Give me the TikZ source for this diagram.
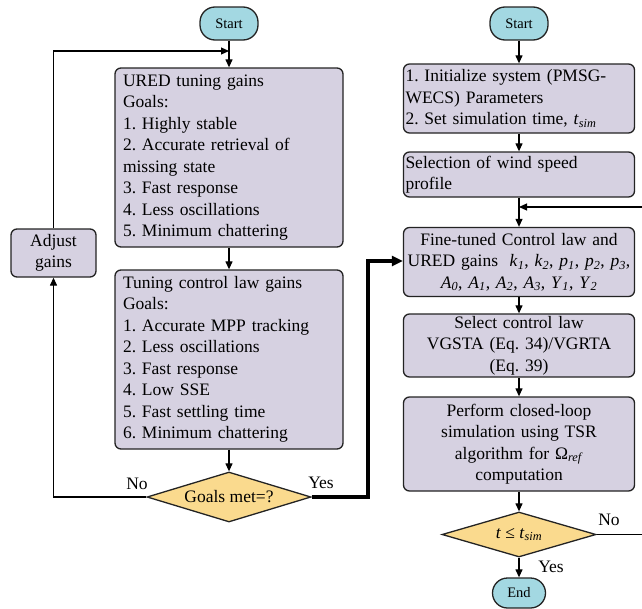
\documentclass[tikz,border=0pt]{standalone}
\usepackage{fontspec}
\setmainfont{Liberation Serif}
\usetikzlibrary{arrows.meta,shapes.geometric}
\definecolor{boxfill}{RGB}{214,209,225}
\definecolor{termfill}{RGB}{163,216,226}
\definecolor{decfill}{RGB}{250,218,142}
\definecolor{edgecol}{RGB}{35,35,35}
\newcommand{\mysub}[1]{\textsubscript{\textit{#1}}}
\frenchspacing
\tikzset{
  proc/.style={draw=edgecol, line width=1.3pt, fill=boxfill, rounded corners=6pt, inner xsep=0pt, inner ysep=0pt},
  term/.style={draw=edgecol, line width=1.3pt, fill=termfill, rounded corners=15pt, inner sep=0pt, font=\fontsize{14.5}{16}\selectfont},
  dec/.style={diamond, draw=edgecol, line width=1.3pt, fill=decfill, inner sep=0pt},
  arr/.style={-{Triangle[length=8pt,width=7pt]}, line width=1.2pt},
  thickarr/.style={-{Triangle[length=11pt,width=10pt]}, line width=3.2pt},
  lbl/.style={inner sep=0pt}
}
\begin{document}
\begin{tikzpicture}[x=1pt,y=-1pt,font=\fontsize{17.5}{21.5}\selectfont]
\useasboundingbox (0,0) rectangle (642,608);
% left column
\node[term, minimum width=58pt, minimum height=33pt] (start1) at (229,23.5) {Start};
\node[proc, minimum width=228pt, minimum height=179pt, text width=212pt, align=left] (ured) at (229,157.5)
  {URED tuning gains\\ Goals:\\ 1. Highly stable\\ 2. Accurate retrieval of\\ missing state\\ 3. Fast response\\ 4. Less oscillations\\ 5. Minimum chattering};
\node[proc, minimum width=228pt, minimum height=179pt, text width=212pt, align=left] (tune) at (229,359.5)
  {Tuning control law gains\\ Goals:\\ 1. Accurate MPP tracking\\ 2. Less oscillations\\ 3. Fast response\\ 4. Low SSE\\ 5. Fast settling time\\ 6. Minimum chattering};
\node[dec, aspect=3.28, minimum width=164pt, minimum height=50pt] (dia1) at (229,497) {Goals met=?};
\node[proc, minimum width=85pt, minimum height=48pt, align=center] (adjust) at (53.5,253) {Adjust\\ gains};
\coordinate (j1) at (229,51);
% right column
\node[term, minimum width=58pt, minimum height=33pt] (start2) at (519,23.5) {Start};
\node[proc, minimum width=231pt, minimum height=69pt, text width=227pt, align=left] (b1) at (519,98.5)
  {\mbox{1. Initialize system (PMSG-}\\ WECS) Parameters\\ 2. Set simulation time, \textit{t}\mysub{sim}};
\node[proc, minimum width=231pt, minimum height=45pt, text width=227pt, align=left] (b2) at (519,174.5)
  {Selection of wind speed\\ profile};
\node[proc, minimum width=231pt, minimum height=69pt, text width=227pt, align=center] (fine) at (519,262)
  {Fine-tuned Control law and\\ URED gains \ \textit{k}\mysub{1}, \textit{k}\mysub{2}, \textit{p}\mysub{1}, \textit{p}\mysub{2}, \textit{p}\mysub{3},\\
   \textit{A}\mysub{0}, \textit{A}\mysub{1}, \textit{A}\mysub{2}, \textit{A}\mysub{3}, \textit{Υ}\mysub{1}, \textit{Υ}\mysub{2}};
\node[proc, minimum width=231pt, minimum height=63pt, text width=227pt, align=center] (sel) at (519,345.5)
  {Select control law\\ VGSTA (Eq. 34)/VGRTA\\ (Eq. 39)};
\node[proc, minimum width=231pt, minimum height=94pt, text width=227pt, align=center] (perf) at (519,444)
  {Perform closed-loop\\ simulation using TSR\\ algorithm for Ω\mysub{ref}\\ computation};
\node[dec, aspect=3.42, minimum width=154pt, minimum height=45pt] (dia2) at (519,534.5) {\textit{t} ≤ \textit{t}\mysub{sim}};
\node[term, minimum width=53pt, minimum height=30pt] (end) at (519,593) {End};
\coordinate (j2) at (519,207);
\coordinate (c1) at (368,261);
\coordinate (c2) at (643,534.5);
% labels
\node[lbl] (no1) at (137,484) {No};
\node[lbl] (yes1) at (321,483) {Yes};
\node[lbl] (no2) at (609,520) {No};
\node[lbl] (yes2) at (551,567) {Yes};
% connectors left
\draw[arr] (start1) -- (ured);
\draw[arr] (adjust.north) |- (j1);
\draw[arr] (ured) -- (tune);
\draw[arr] (tune) -- (dia1);
\draw[arr] (dia1.west) -| (adjust.south);
\draw[thickarr] (dia1.east) -| (c1) -- (c1 -| fine.west);
% connectors right
\draw[arr] (start2) -- (b1);
\draw[arr] (b1) -- (b2);
\draw[arr] (b2) -- (fine);
\draw[arr] (fine) -- (sel);
\draw[arr] (sel) -- (perf);
\draw[arr] (perf) -- (dia2);
\draw[arr] (dia2) -- (end);
\draw[arr] (dia2.east) -- (c2) |- (j2);
\end{tikzpicture}
\end{document}
